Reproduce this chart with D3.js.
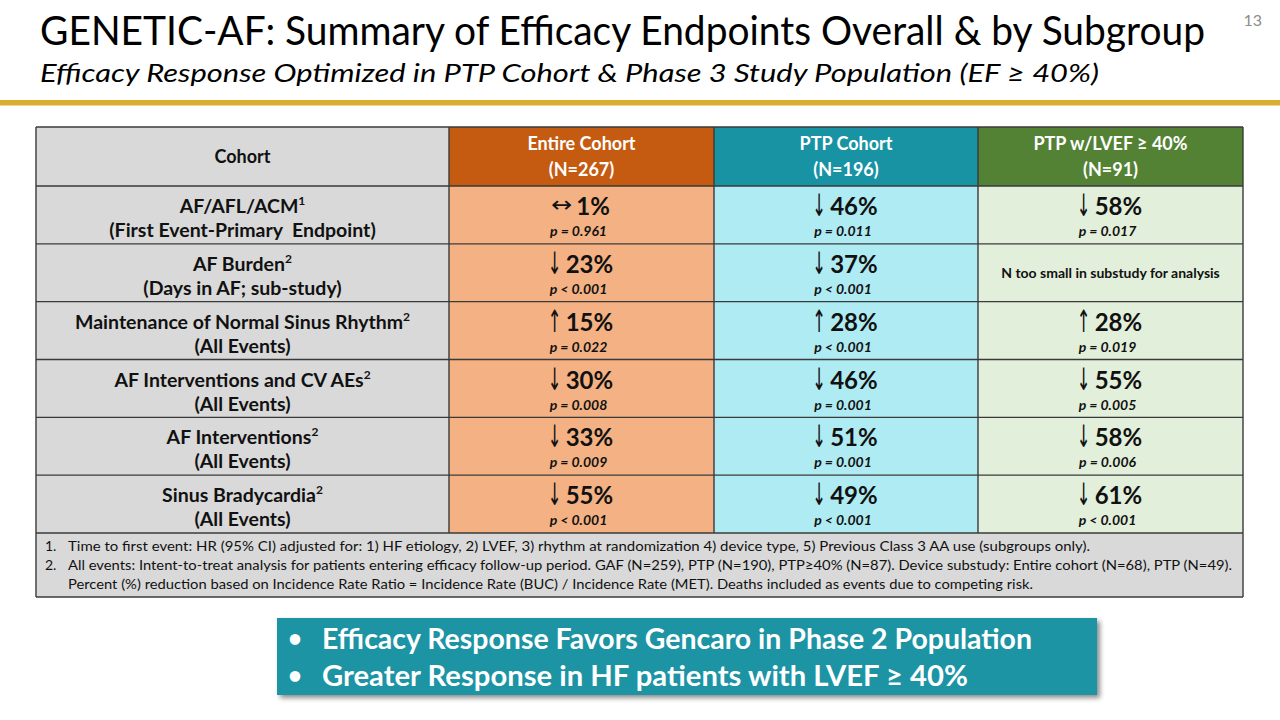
<!DOCTYPE html>
<html><head><meta charset="utf-8">
<script src="https://cdn.jsdelivr.net/npm/d3@7"></script>
<style>
html,body{margin:0;padding:0;background:#fff;}
svg{display:block;}
</style></head>
<body>
<svg id="c" width="1280" height="720"></svg>
<script>
// ---------- DATA ----------
const title = "GENETIC-AF: Summary of Efficacy Endpoints Overall & by Subgroup";
const subtitle = "Efficacy Response Optimized in PTP Cohort & Phase 3 Study Population (EF ≥ 40%)";
const pageNum = "13";
const colHeaders = [["Cohort"], ["Entire Cohort", "(N=267)"], ["PTP Cohort", "(N=196)"], ["PTP w/LVEF ≥ 40%", "(N=91)"]];
const rowLabels = [
  ["AF/AFL/ACM", "1", "(First Event-Primary  Endpoint)"],
  ["AF Burden", "2", "(Days in AF; sub-study)"],
  ["Maintenance of Normal Sinus Rhythm", "2", "(All Events)"],
  ["AF Interventions and CV AEs", "2", "(All Events)"],
  ["AF Interventions", "2", "(All Events)"],
  ["Sinus Bradycardia", "2", "(All Events)"]
];
const entireArrow = ["↔", "↓", "↑", "↓", "↓", "↓"];
const entireValue = [1, 23, 15, 30, 33, 55];
const entireP = ["p = 0.961", "p < 0.001", "p = 0.022", "p = 0.008", "p = 0.009", "p < 0.001"];
const ptpArrow = ["↓", "↓", "↑", "↓", "↓", "↓"];
const ptpValue = [46, 37, 28, 46, 51, 49];
const ptpP = ["p = 0.011", "p < 0.001", "p < 0.001", "p = 0.001", "p = 0.001", "p < 0.001"];
const lvefArrow = ["↓", null, "↑", "↓", "↓", "↓"];
const lvefValue = [58, null, 28, 55, 58, 61];
const lvefP = ["p = 0.017", null, "p = 0.019", "p = 0.005", "p = 0.006", "p < 0.001"];
const lvefNote = "N too small in substudy for analysis";
const footnotes = [
  ["1.", "Time to first event: HR (95% CI) adjusted for: 1) HF etiology, 2) LVEF, 3) rhythm  at randomization  4) device type, 5) Previous  Class 3 AA use (subgroups only)."],
  ["2.", "All events: Intent-to-treat analysis for patients entering efficacy follow-up period.  GAF (N=259), PTP (N=190), PTP≥40% (N=87). Device substudy: Entire cohort  (N=68), PTP (N=49)."],
  ["", "Percent (%) reduction based on Incidence Rate Ratio = Incidence Rate (BUC) / Incidence Rate (MET). Deaths included as events due to competing risk."]
];
const bullets = ["Efficacy Response Favors Gencaro in Phase 2 Population", "Greater Response in HF patients with LVEF ≥ 40%"];

// ---------- STYLE / LAYOUT ----------
const FONT = "Lato, 'Open Sans', 'Noto Sans', sans-serif";
const headFill = ["#D9D9D9", "#C55A11", "#1793A3", "#548235"];
const bodyFill = ["#D9D9D9", "#F4B183", "#AFEBF3", "#E2EFDA"];
const headText = ["#111", "#fff", "#fff", "#fff"];
const gold = "#D9AE2E";
const teal = "#1A94A4";
const border = "#3a3a3a";

const svg = d3.select("#c");
const defs = svg.append("defs");
const f = defs.append("filter").attr("id", "sh").attr("x", "-5%").attr("y", "-20%").attr("width", "115%").attr("height", "150%");
f.append("feDropShadow").attr("dx", 3).attr("dy", 3).attr("stdDeviation", 2.5).attr("flood-color", "#000").attr("flood-opacity", 0.45);

function fit(sel, w) {
  sel.attr("textLength", w).attr("lengthAdjust", "spacingAndGlyphs");
}

// Title
svg.append("text").attr("x", 40).attr("y", 45).attr("font-family", FONT).attr("font-size", 40)
  .attr("fill", "#000").text(title).call(fit, 1165);
svg.append("text").attr("x", 40).attr("y", 82).attr("font-family", FONT).attr("font-size", 25)
  .attr("font-style", "italic").attr("fill", "#000").text(subtitle).call(fit, 1059);
svg.append("text").attr("x", 1262).attr("y", 26).attr("text-anchor", "end").attr("font-family", FONT)
  .attr("font-size", 16).attr("fill", "#8c8c8c").text(pageNum);
svg.append("rect").attr("x", 0).attr("y", 100).attr("width", 1280).attr("height", 5.5).attr("fill", gold);

// Table geometry via scales
const colEdges = [36, 449, 714, 978, 1243];
const xCol = d3.scaleOrdinal().domain(d3.range(4)).range(colEdges.slice(0, 4));
const colW = i => colEdges[i + 1] - colEdges[i];
const headTop = 127, headBot = 186, bodyBot = 533, footBot = 597;
const yRow = d3.scaleBand().domain(d3.range(rowLabels.length)).range([headBot, bodyBot]);

const g = svg.append("g");

// header
colHeaders.forEach((h, i) => {
  g.append("rect").attr("x", xCol(i)).attr("y", headTop).attr("width", colW(i)).attr("height", headBot - headTop)
    .attr("fill", headFill[i]);
  const cx = xCol(i) + colW(i) / 2;
  const cy = (headTop + headBot) / 2;
  const t = g.append("text").attr("text-anchor", "middle").attr("font-family", FONT).attr("font-weight", "bold")
    .attr("font-size", 18).attr("fill", headText[i]);
  if (h.length === 1) {
    t.attr("x", cx).attr("y", cy + 6).text(h[0]);
  } else {
    t.append("tspan").attr("x", cx).attr("y", cy - 7).text(h[0]);
    t.append("tspan").attr("x", cx).attr("y", cy + 19).text(h[1]);
  }
});

// body
const cols = [
  null,
  {arrow: entireArrow, value: entireValue, p: entireP},
  {arrow: ptpArrow, value: ptpValue, p: ptpP},
  {arrow: lvefArrow, value: lvefValue, p: lvefP}
];
rowLabels.forEach((lab, r) => {
  const y0 = yRow(r), h = yRow.bandwidth();
  for (let i = 0; i < 4; i++) {
    g.append("rect").attr("x", xCol(i)).attr("y", y0).attr("width", colW(i)).attr("height", h).attr("fill", bodyFill[i]);
  }
  // label
  const cx = xCol(0) + colW(0) / 2;
  const t = g.append("text").attr("text-anchor", "middle").attr("font-family", FONT).attr("font-weight", "bold")
    .attr("font-size", 19.5).attr("fill", "#111").attr("xml:space", "preserve").style("white-space", "pre");
  const l1 = t.append("tspan").attr("x", cx).attr("y", y0 + 27);
  l1.append("tspan").text(lab[0]);
  l1.append("tspan").attr("font-size", 12).attr("dy", -8).text(lab[1]);
  t.append("tspan").attr("x", cx).attr("y", y0 + 51).text(lab[2]);
  // values
  for (let i = 1; i < 4; i++) {
    const c = cols[i];
    const vx = xCol(i) + colW(i) / 2;
    if (c.value[r] == null) {
      g.append("text").attr("x", vx).attr("y", y0 + h / 2 + 5).attr("text-anchor", "middle").attr("font-family", FONT)
        .attr("font-weight", "bold").attr("font-size", 14).attr("fill", "#111").text(lvefNote);
      continue;
    }
    const base = y0 + 29;
    const pct = g.append("text").attr("y", base).attr("font-family", FONT)
      .attr("font-weight", "bold").attr("font-size", 24).attr("fill", "#111").text(c.value[r] + "%");
    const pw = pct.node().getComputedTextLength();
    const wide = c.arrow[r] === "↔";
    const sx = wide ? 1.15 : 0.75, sy = wide ? 1.0 : 1.4;
    const ar = g.append("text").attr("font-family", "'DejaVu Sans', sans-serif").attr("font-size", 22)
      .attr("fill", "#111").text(c.arrow[r]);
    const aw = ar.node().getComputedTextLength() * sx;
    const gap = 4;
    const total = aw + gap + pw;
    const left = vx - 1 - total / 2;
    ar.attr("transform", `translate(${left},${base + (wide ? -3 : 1)}) scale(${sx},${sy})`);
    pct.attr("x", left + aw + gap);
    g.append("text").attr("x", vx - 3).attr("y", y0 + 50).attr("text-anchor", "middle").attr("font-family", FONT)
      .attr("font-weight", "bold").attr("font-style", "italic").attr("font-size", 14).attr("fill", "#111").text(c.p[r]);
  }
});

// footer
g.append("rect").attr("x", colEdges[0]).attr("y", bodyBot).attr("width", colEdges[4] - colEdges[0]).attr("height", footBot - bodyBot)
  .attr("fill", "#D9D9D9");
const footW = [1022, 1164, 965];
footnotes.forEach((fn, k) => {
  const y = bodyBot + 18 + k * 19;
  if (fn[0]) g.append("text").attr("x", 45).attr("y", y).attr("font-family", FONT).attr("font-size", 14).attr("fill", "#111").text(fn[0]);
  g.append("text").attr("x", 68).attr("y", y).attr("font-family", FONT).attr("font-size", 14).attr("fill", "#111")
    .text(fn[1]).call(fit, footW[k]);
});

// grid lines
const lines = g.append("g").attr("stroke", border).attr("stroke-width", 1.4).attr("fill", "none");
const hy = [headTop, headBot].concat(d3.range(1, rowLabels.length).map(r => yRow(r)), [bodyBot, footBot]);
hy.forEach(y => lines.append("line").attr("x1", colEdges[0]).attr("x2", colEdges[4]).attr("y1", y).attr("y2", y));
colEdges.forEach((x, i) => {
  const yb = (i === 0 || i === 4) ? footBot : bodyBot;
  lines.append("line").attr("x1", x).attr("x2", x).attr("y1", headTop).attr("y2", yb);
});

// bottom box
const bx = 277, by = 618, bw = 820, bh = 77;
svg.append("rect").attr("x", bx).attr("y", by).attr("width", bw).attr("height", bh).attr("fill", teal).attr("filter", "url(#sh)");
const bulletW = [710, 646];
bullets.forEach((b, k) => {
  const y = by + 31 + k * 37;
  svg.append("text").attr("x", 288).attr("y", y - 2).attr("font-family", FONT).attr("font-size", 24).attr("fill", "#fff").attr("font-weight", "bold").text("•");
  svg.append("text").attr("x", 322).attr("y", y).attr("font-family", FONT).attr("font-size", 28).attr("font-weight", "bold")
    .attr("fill", "#fff").text(b).call(fit, bulletW[k]);
});
</script>
</body></html>
